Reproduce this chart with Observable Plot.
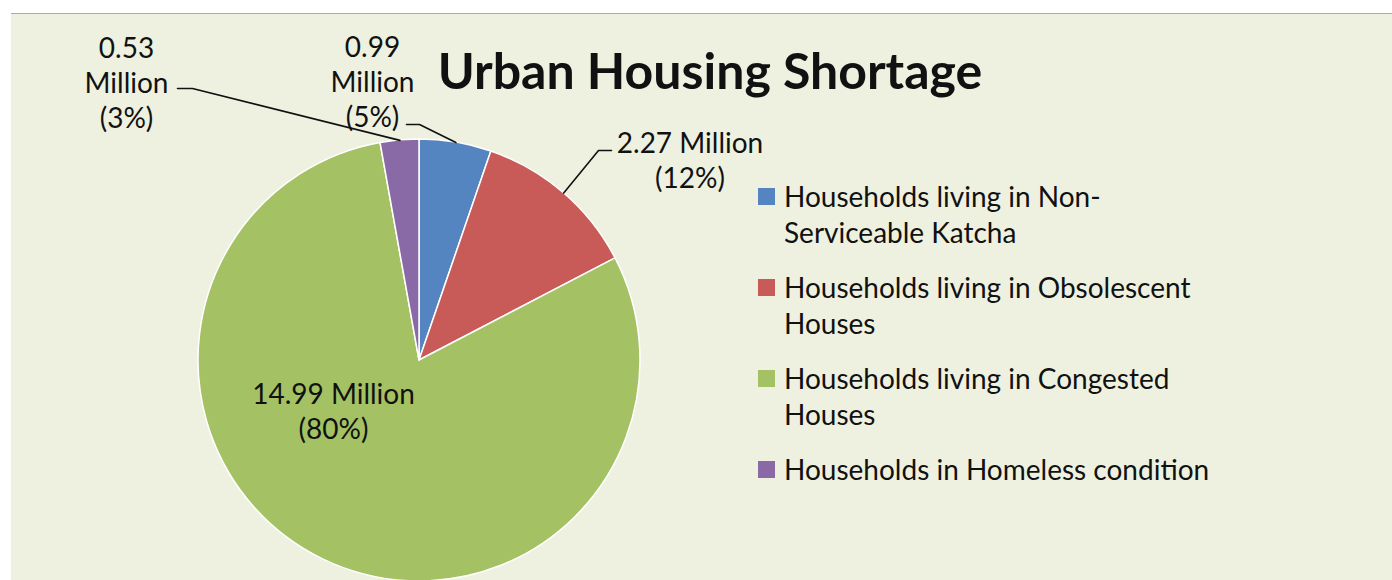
<!DOCTYPE html>
<html>
<head>
<meta charset="utf-8">
<script src="https://cdn.jsdelivr.net/npm/d3@7"></script>
<script src="https://cdn.jsdelivr.net/npm/@observablehq/plot@0.6"></script>
<style>
  html, body { margin: 0; padding: 0; background: #ffffff; }
  body { width: 1392px; height: 580px; overflow: hidden; position: relative; font-family: Lato, "Open Sans", sans-serif; }
  #panel { position: absolute; left: 11px; top: 13px; width: 1381px; height: 567px; background: #eef1e0; border-top: 1px solid #ababab; box-sizing: border-box; }
  #chart { position: absolute; left: 0; top: 0; }
  #title { position: absolute; left: 299px; top: 32px; width: 800px; text-align: center; font: bold 50px/49px Lato, sans-serif; color: #111; white-space: nowrap; }
  #legend { position: absolute; left: 747px; top: 164px; }
  .item { position: relative; padding-left: 26px; width: 440px; font: 28px/36px Lato, sans-serif; color: #111; margin-bottom: 19px; }
  .sw { position: absolute; left: 0; top: 10px; width: 17px; height: 17px; }
</style>
</head>
<body>
<div id="panel">
  <div id="chart"></div>
  <div id="title"></div>
  <div id="legend"></div>
</div>
<script>
// ---- data ----
const title = "Urban Housing Shortage";
const categories = [
  "Households living in Non-Serviceable Katcha",
  "Households living in Obsolescent Houses",
  "Households living in Congested Houses",
  "Households in Homeless condition"
];
const values = [0.99, 2.27, 14.99, 0.53]; // million households
const unit = "Million";
const colors = ["#5585c1", "#c85b58", "#a4c263", "#8a6aa6"];

// ---- layout (pixels) ----
const W = 1381, H = 566;          // svg size
const CX = 408, CY = 346, R = 221; // pie centre and radius inside svg
// label placement relative to pie centre; leader: [end, elbow] points
const labelLayout = [
  { stack: true,  at: [-47, -280],    leader: [[-13, -236], [0, -236]] },
  { stack: false, at: [270.5, -201.5], leader: [[192, -210], [179, -210]] },
  { stack: false, at: [-86, 50],      leader: null },
  { stack: true,  at: [-293, -279],   leader: [[-242, -272], [-227, -272]] }
];

const data = categories.map((c, i) => ({ category: c, value: values[i] }));
const total = d3.sum(values);
const arcs = d3.pie().sort(null).value(d => d.value)(data);
const toX = px => px / R, toY = py => -py / R;

const labels = arcs.map((a, i) => {
  const L = labelLayout[i];
  const pct = Math.round(a.data.value / total * 100);
  const num = a.data.value.toFixed(2);
  const text = L.stack ? `${num}\n${unit}\n(${pct}%)` : `${num} ${unit}\n(${pct}%)`;
  return { x: toX(L.at[0]), y: toY(L.at[1]), text };
});

const leaders = [];
arcs.forEach((a, i) => {
  const L = labelLayout[i];
  if (!L.leader) return;
  const mid = (a.startAngle + a.endAngle) / 2;
  L.leader.forEach(p => leaders.push({ x: toX(p[0]), y: toY(p[1]), z: a.data.category }));
  leaders.push({ x: Math.sin(mid), y: Math.cos(mid), z: a.data.category });
});

function pieMark(index, scales) {
  const cx = scales.x(0), cy = scales.y(0);
  const r = Math.abs(scales.x(1) - scales.x(0));
  const color = scales.color ?? d3.scaleOrdinal(categories, colors);
  const g = d3.create("svg:g").attr("transform", `translate(${cx},${cy})`);
  const arc = d3.arc().innerRadius(0).outerRadius(r);
  g.selectAll("path").data(arcs).join("path")
    .attr("d", arc)
    .attr("fill", d => color(d.data.category))
    .attr("stroke", "#ffffff")
    .attr("stroke-width", 1.5)
    .attr("stroke-linejoin", "round");
  return g.node();
}

const chart = Plot.plot({
  width: W,
  height: H,
  margin: 0,
  x: { domain: [-CX / R, (W - CX) / R], axis: null },
  y: { domain: [-(H - CY) / R, CY / R], axis: null },
  color: { domain: categories, range: colors },
  style: { background: "transparent", fontFamily: "Lato, sans-serif" },
  marks: [
    pieMark,
    Plot.line(leaders, { x: "x", y: "y", z: "z", stroke: "#111", strokeWidth: 1.6 }),
    Plot.text(labels, {
      x: "x", y: "y", text: "text",
      fontSize: 28, fontFamily: "Lato, sans-serif", lineHeight: 1.25,
      lineAnchor: "middle", textAnchor: "middle", fill: "#111"
    })
  ]
});
document.getElementById("chart").appendChild(chart);

document.getElementById("title").textContent = title;
const legend = d3.select("#legend");
categories.forEach((c, i) => {
  const item = legend.append("div").attr("class", "item");
  item.append("span").attr("class", "sw").style("background", colors[i]);
  item.append("span").attr("class", "lt").text(c);
});
</script>
</body>
</html>
